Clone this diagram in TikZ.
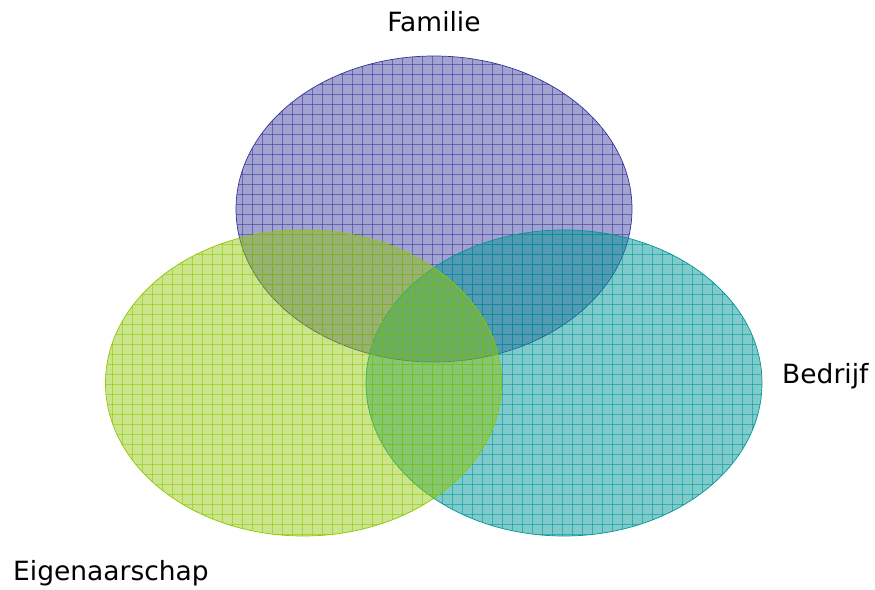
\documentclass[tikz,border=0pt]{standalone}
\usepackage{fontspec}
\setmainfont{DejaVu Sans}
\definecolor{fam}{RGB}{51,51,153}
\definecolor{bed}{RGB}{0,150,150}
\definecolor{eig}{RGB}{140,198,0}
\tikzset{lab/.style={inner sep=0pt,font=\fontsize{22.6}{26}\selectfont}}

\begin{document}
\begin{tikzpicture}[x=0.03cm,y=-0.03cm]
\useasboundingbox (0,0) rectangle (875,589);
\foreach \cx/\cy/\col/\op in {434/209/fam/.45,564/383/bed/.5,303.5/383/eig/.45}{
\fill[\col,fill opacity=\op] (\cx,\cy) ellipse [x radius=198,y radius=153];
\begin{scope}
\clip (\cx,\cy) ellipse [x radius=198,y radius=153];
\foreach \g in {2,12,...,872} \draw[\col,opacity=.55,line width=.35pt] (\g,0)--(\g,589);
\foreach \g in {4,14,...,584} \draw[\col,opacity=.55,line width=.35pt] (0,\g)--(875,\g);
\end{scope}
\draw[\col,line width=.6pt] (\cx,\cy) ellipse [x radius=198,y radius=153];}
\node[lab] (familie) at (434,22) {Familie};
\node[lab,anchor=west] (bedrijf) at (782,376) {Bedrijf};
\node[lab,anchor=west] (eigenaarschap) at (13,573) {Eigenaarschap};
\end{tikzpicture}
\end{document}
